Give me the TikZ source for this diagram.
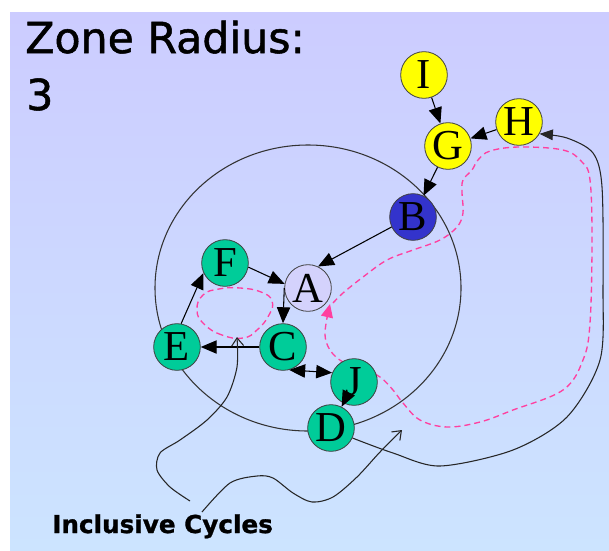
\documentclass[tikz,border=0pt]{standalone}
\usepackage{fontspec}
\usepackage{tikz}
\usetikzlibrary{arrows.meta}
\newfontfamily\zonefont{DejaVu Sans}[FakeBold=1.2]
\newfontfamily\letterfont{Liberation Serif}
\definecolor{zonetop}{RGB}{204,204,255}
\definecolor{zonebot}{RGB}{204,228,255}
\definecolor{vgreen}{RGB}{0,204,153}
\definecolor{vblue}{RGB}{51,51,204}
\definecolor{vlilac}{RGB}{212,210,252}
\definecolor{vyellow}{RGB}{255,255,0}
\definecolor{cpink}{RGB}{255,64,160}
\tikzset{
  vtx/.style={circle, draw=black!75, line width=0.6pt, inner sep=0pt,
      minimum size=35pt, font=\letterfont\fontsize{32}{32}\selectfont},
  gvtx/.style={vtx, fill=vgreen},
  yvtx/.style={vtx, fill=vyellow},
  bvtx/.style={vtx, fill=vblue},
  avtx/.style={vtx, fill=vlilac},
  earr/.style={-{Triangle[length=12pt,width=10pt]}, line width=0.8pt},
  darr/.style={{Triangle[length=12pt,width=10pt]}-{Triangle[length=12pt,width=10pt]},
      line width=0.8pt},
  zone/.style={black!80, line width=0.8pt},
  pdash/.style={cpink, line width=1pt, dash pattern=on 4.5pt off 3pt},
  crv/.style={black!85, line width=0.8pt},
  ttl/.style={inner sep=0pt, font=\zonefont\fontsize{32}{36}\selectfont},
  capt/.style={inner sep=0pt, font=\zonefont\bfseries\fontsize{18.5}{20}\selectfont},
}

\begin{document}
\begin{tikzpicture}[x=0.75pt, y=-0.75pt]
\useasboundingbox (0,0) rectangle (609,550);
%---- backdrop and title
\shade[top color=zonetop, bottom color=zonebot] (10,12) rectangle (609,550);
\node[ttl, anchor=base west] (zr) at (25,53) {Zone Radius:};
\node[ttl, anchor=base west] (zn) at (26,110) {3};
%---- the zone and the cycles
\draw[zone] (308,288) ellipse [x radius=153, y radius=143];
\draw[pdash] plot[smooth cycle, tension=0.8] coordinates {(243,338) (222,335)
  (204,324) (197,310) (203,295) (219,289) (240,288) (261,292) (272,301)
  (269,315) (257,330)};
\draw[pdash, -{Triangle[length=10pt,width=9pt]}] plot[smooth, tension=0.6]
  coordinates {(333,303) (343,293) (363,277) (387,260) (413,250) (440,240)
  (457,227) (463,213) (462,193) (463,180) (472,170) (478,160) (490,151)
  (519,147) (563,150) (582,162) (590,180) (592,240) (590,323) (583,360)
  (563,390) (513,410) (480,422) (447,427) (420,420) (403,403) (393,390)
  (380,377) (362,368) (343,362) (330,350) (325,333) (330,304)};
%---- nodes
\node[yvtx] (I) at (424,75) {I};
\node[yvtx] (G) at (448,146) {G};
\node[yvtx] (H) at (519,122) {H};
\node[bvtx] (B) at (413,217) {B};
\node[avtx] (A) at (308,288) {A};
\node[gvtx] (F) at (225,263) {F};
\node[gvtx] (C) at (283,347) {C};
\node[gvtx] (E) at (177,347) {E};
\node[gvtx] (J) at (354,382) {J};
\node[gvtx] (D) at (331,428) {D};
%---- edges
\draw[earr] (I) -- (G);
\draw[earr] (H) -- (G);
\draw[earr] (G) -- (B);
\draw[earr] (B.205) -- (A.65);
\draw[earr] (F.-10) -- (A.170);
\draw[earr] (A.180) -- (C.90);
\draw[earr] (C) -- (E);
\draw[earr] (E.80) -- (F.205);
\draw[darr] (C.-75) -- (J.157);
\draw[earr] (J) -- (D);
\draw[crv, -{Triangle[length=10pt,width=8pt]}] plot[smooth] coordinates {(D.-25)
  (393,453) (440,466) (513,450) (567,417) (600,360) (603,287) (602,187)
  (593,153) (567,138) (H.-30)};
%---- caption
\node[capt, anchor=base west] (ic) at (52,533) {Inclusive Cycles};
\draw[crv, -{Straight Barb[length=6pt,width=9pt]}] plot[smooth] coordinates {
  (190,501) (170,487) (157,470) (160,453) (180,440) (207,420) (227,397)
  (237,367) (237,337)};
\draw[crv, -{Straight Barb[length=6pt,width=9pt]}] plot[smooth] coordinates {
  (202,512) (230,483) (257,476) (273,478) (293,493) (312,502) (333,497)
  (357,477) (380,452) (402,430)};
\end{tikzpicture}
\end{document}
